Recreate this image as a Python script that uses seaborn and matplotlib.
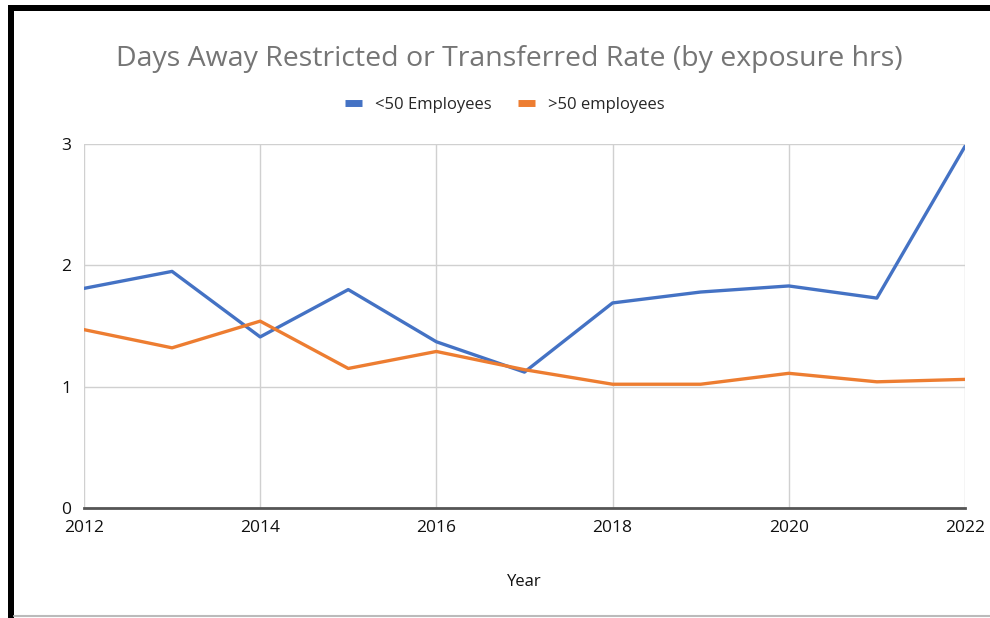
import matplotlib
matplotlib.use("Agg")
import matplotlib.pyplot as plt
import seaborn as sns
import pandas as pd
from matplotlib.lines import Line2D
from matplotlib.patches import Rectangle

years = [2012, 2013, 2014, 2015, 2016, 2017, 2018, 2019, 2020, 2021, 2022]
small = [1.81, 1.95, 1.41, 1.80, 1.37, 1.12, 1.69, 1.78, 1.83, 1.73, 2.98]
large = [1.47, 1.32, 1.54, 1.15, 1.29, 1.14, 1.02, 1.02, 1.11, 1.04, 1.06]
series_names = ["<50 Employees", ">50 employees"]
colors = ["#4472C4", "#ED7D31"]
x_ticks = [2012, 2014, 2016, 2018, 2020, 2022]
y_ticks = [0, 1, 2, 3]

df = pd.DataFrame({
    "Year": years * 2,
    "Rate": small + large,
    "Series": [series_names[0]] * len(years) + [series_names[1]] * len(years),
})

sns.set_theme(style="white")
plt.rcParams["font.family"] = ["Open Sans", "DejaVu Sans"]

fig = plt.figure(figsize=(9.9, 6.18), dpi=100)
ax = fig.add_axes([0.0848, 0.178, 0.8899, 0.589])

sns.lineplot(data=df, x="Year", y="Rate", hue="Series", palette=colors,
             hue_order=series_names, linewidth=2.4, ax=ax, legend=False)

ax.set_xlim(2012, 2022)
ax.set_ylim(0, 3)
ax.set_xticks(x_ticks)
ax.set_yticks(y_ticks)
ax.set_xticklabels([str(t) for t in x_ticks], fontsize=12.5, color="#111111")
ax.set_yticklabels([str(t) for t in y_ticks], fontsize=12.5, color="#111111")
ax.tick_params(axis="both", length=0)
ax.tick_params(axis="x", pad=9)
ax.tick_params(axis="y", pad=9)
ax.grid(True, color="#d0d0d0", linewidth=1.0)
ax.set_axisbelow(True)
for s in ["top", "right", "left"]:
    ax.spines[s].set_visible(False)
ax.spines["bottom"].set_color("#555555")
ax.spines["bottom"].set_linewidth(2)
ax.set_xlabel("Year", fontsize=12, color="#111111", labelpad=27)
ax.set_ylabel("")

fig.text(0.514, 0.905, "Days Away Restricted or Transferred Rate (by exposure hrs)",
         ha="center", va="center", fontsize=20.5, color="#757575")

handles = [Line2D([], [], color=c, linewidth=5, solid_capstyle="butt") for c in colors]
fig.legend(handles, series_names, loc="center", bbox_to_anchor=(0.51, 0.83),
           ncol=2, frameon=False, fontsize=12, handlelength=1.0,
           columnspacing=1.6, handletextpad=0.8)

# screenshot frame
fig.add_artist(Rectangle((8 / 990, 0), 6 / 990, 1 - 5 / 618, transform=fig.transFigure,
                         color="black", lw=0))
fig.add_artist(Rectangle((8 / 990, 1 - 11 / 618), 1 - 8 / 990, 6 / 618,
                         transform=fig.transFigure, color="black", lw=0))
fig.add_artist(Line2D([14 / 990, 1], [2 / 618, 2 / 618], transform=fig.transFigure,
                      color="#bbbbbb", lw=1.5))

fig.savefig("out.png", dpi=100, facecolor="white")
